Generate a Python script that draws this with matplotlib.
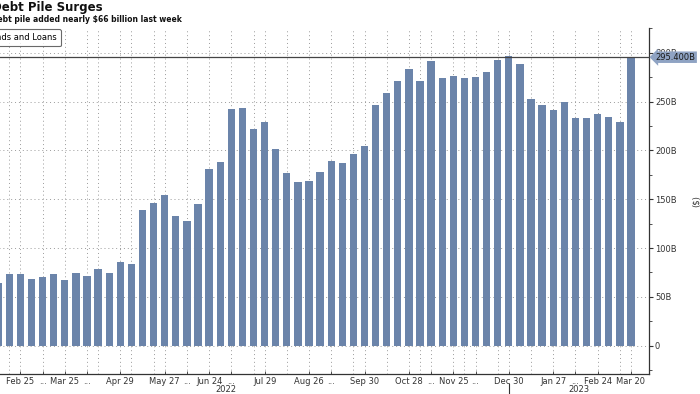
import numpy as np
import pandas as pd
import matplotlib.pyplot as plt
from matplotlib.ticker import FixedLocator, MultipleLocator

plt.rcParams['font.family'] = ['DejaVu Sans']

# weekly data, last point is the Monday update
weeks = list(pd.date_range('2022-02-11', periods=57, freq='W-FRI')) + [pd.Timestamp('2023-03-20')]
debt = [64.5, 73.4, 73.4, 68.6, 70.0, 73.4, 67.2, 74.1, 71.0, 78.5,
        74.4, 85.7, 83.6, 139.2, 145.7, 154.6, 132.4, 127.3, 145.0, 180.5,
        188.0, 242.3, 243.3, 222.1, 229.0, 201.0, 177.0, 167.9, 168.9, 177.8,
        189.0, 186.7, 196.5, 204.0, 246.4, 258.3, 270.6, 283.5, 270.6, 291.4,
        274.0, 276.0, 274.3, 275.3, 280.0, 292.4, 296.5, 288.0, 252.2, 246.4,
        241.6, 249.1, 232.7, 232.7, 237.2, 234.0, 229.0, 295.4]

tick_dates = ['2022-02-25', '2022-03-11', '2022-03-25', '2022-04-08', '2022-04-29',
              '2022-05-27', '2022-06-10', '2022-06-24', '2022-07-08', '2022-07-29',
              '2022-08-26', '2022-09-09', '2022-09-30', '2022-10-28', '2022-11-11',
              '2022-11-25', '2022-12-09', '2022-12-30', '2023-01-27', '2023-02-10',
              '2023-02-24', '2023-03-20']
tick_labels = ['Feb 25', '...', 'Mar 25', '...', 'Apr 29', 'May 27', '...', 'Jun 24',
               '...', 'Jul 29', 'Aug 26', '...', 'Sep 30', 'Oct 28', '...', 'Nov 25',
               '...', 'Dec 30', 'Jan 27', '...', 'Feb 24', 'Mar 20']
extra_grid_dates = ['2022-02-18', '2022-04-15', '2022-04-29', '2022-05-06', '2022-05-20',
                    '2022-07-22', '2022-08-12', '2022-09-23', '2022-10-14', '2022-11-04',
                    '2022-12-02', '2022-12-23', '2023-01-13', '2023-03-10']

bar_color = '#6b84aa'
dark = '#333333'

x = np.arange(len(weeks))
tick_pos = [weeks.index(pd.Timestamp(d)) for d in tick_dates]
grid_pos = [weeks.index(pd.Timestamp(d)) for d in extra_grid_dates]

fig = plt.figure(figsize=(7, 3.94), dpi=100)
# axes runs off the left edge like the cropped original
ax = fig.add_axes([-57.3 / 700, 20 / 394, 706 / 700, 345.7 / 394])

bars = ax.bar(x, debt, width=0.66, color=bar_color, zorder=2, label='Bonds and Loans')
ax.set_xlim(-5, 58.6)
ax.set_ylim(-29, 325)

ax.axhline(debt[-1], color='#444444', lw=0.9, zorder=3)

# axes styling
for s in ['top', 'left']:
    ax.spines[s].set_visible(False)
for s in ['right', 'bottom']:
    ax.spines[s].set_color(dark)
    ax.spines[s].set_linewidth(0.9)

ax.yaxis.tick_right()
ax.yaxis.set_major_locator(FixedLocator(range(0, 301, 50)))
ax.yaxis.set_minor_locator(MultipleLocator(25))
ax.set_yticklabels(['0' if v == 0 else f'{v}B' for v in range(0, 301, 50)])
ax.tick_params(axis='y', which='major', direction='out', length=3, width=0.8,
               colors=dark, labelsize=6, pad=1.5)
ax.tick_params(axis='y', which='minor', direction='out', length=2, width=0.6, colors=dark)
ax.yaxis.set_label_position('right')
ax.set_ylabel('($)', fontsize=6, color=dark, labelpad=11)

ax.xaxis.set_major_locator(FixedLocator(tick_pos))
ax.xaxis.set_minor_locator(FixedLocator(grid_pos))
ax.set_xticklabels(tick_labels)
ax.tick_params(axis='x', which='major', direction='in', length=2, width=0.6,
               colors=dark, labelsize=6, pad=2.5)
ax.tick_params(axis='x', which='minor', length=0)

ax.grid(axis='y', which='major', linestyle=(0, (1, 3)), color='#9a9a9a', lw=0.7, zorder=0)
ax.grid(axis='x', which='both', linestyle=(0, (1, 3)), color='#9a9a9a', lw=0.7, zorder=0)

# year labels and separator
sep = weeks.index(pd.Timestamp('2022-12-30'))
xl = ax.get_xlim()
ax.plot([sep, sep], [-0.029, -0.06], transform=ax.get_xaxis_transform(),
        color=dark, lw=0.8, clip_on=False)
for yr, x0, x1 in [('2022', xl[0], sep), ('2023', sep, xl[1])]:
    ax.annotate(yr, xy=((x0 + x1) / 2, 0), xycoords=('data', 'axes fraction'),
                xytext=(0, -11.2), textcoords='offset points',
                ha='center', va='center', fontsize=6, color=dark)

# last value tag
ax.annotate(f'{debt[-1]:.3f}B', xy=(1, debt[-1]), xycoords=('axes fraction', 'data'),
            xytext=(5, 0), textcoords='offset points', ha='left', va='center',
            fontsize=6, color='#1a1a1a', zorder=5, annotation_clip=False,
            bbox=dict(boxstyle='larrow,pad=0.15', fc='#8fa3c3', ec='none'))

# title block (cut at the left edge as in the source)
fig.text(103 / 700, 1 - 7 / 394, 'Debt Pile Surges', ha='right', va='center',
         fontsize=8.5, weight='bold', color='#111111')
fig.text(182 / 700, 1 - 19 / 394, 'Debt pile added nearly $66 billion last week',
         ha='right', va='center', fontsize=5.5, weight='bold', color='#111111')

leg = fig.legend(handles=[bars], loc='center right', bbox_to_anchor=(65 / 700, 1 - 37.5 / 394),
                 fontsize=6, frameon=True, fancybox=True, handlelength=0.8,
                 borderpad=0.5, handletextpad=0.4)
leg.get_frame().set_edgecolor('#444444')
leg.get_frame().set_linewidth(0.8)

fig.savefig('out.png', dpi=100)
